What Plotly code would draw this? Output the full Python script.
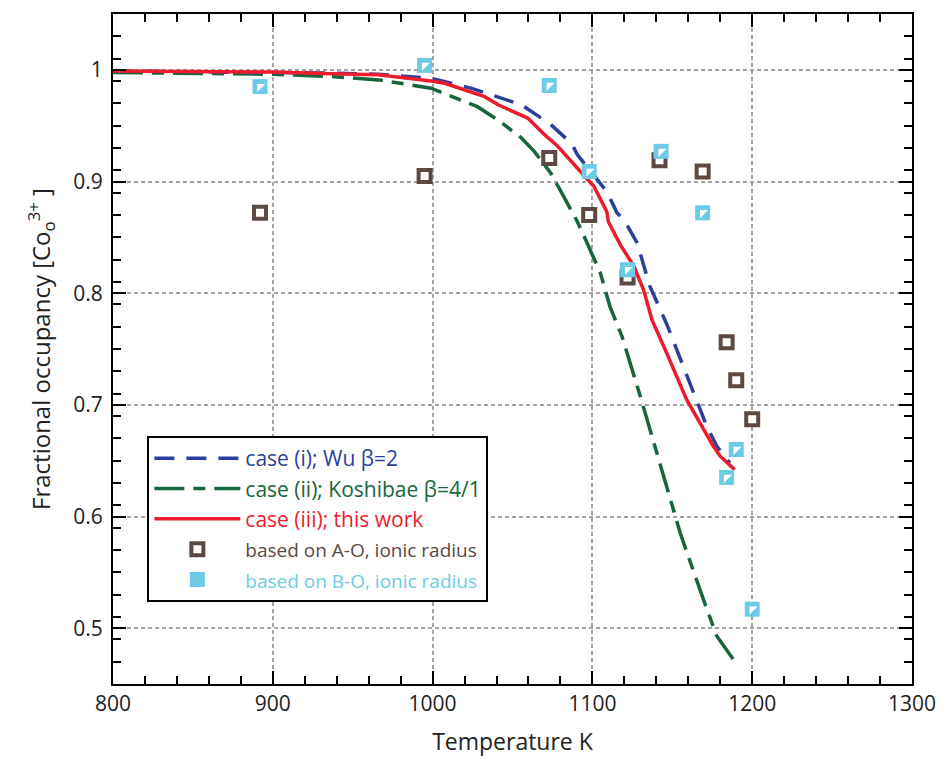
import plotly.graph_objects as go

# ---- data ----
T_i = [800, 900, 937, 966, 999, 1024, 1055.6, 1074, 1087, 1090.6, 1109, 1115.5, 1119.7, 1128, 1136, 1146.6, 1160, 1171.5, 1177.8, 1186]
v_i = [0.999, 0.998, 0.997, 0.996, 0.9925, 0.9836, 0.9687, 0.951, 0.934, 0.924, 0.891, 0.8717, 0.866, 0.845, 0.806, 0.772, 0.722, 0.681, 0.663, 0.648]

T_ii = [800, 900, 937, 966, 999, 1009.6, 1028, 1041, 1055.6, 1063.6, 1074, 1082, 1090.6, 1094.8, 1105, 1111, 1118.6, 1130, 1142.5, 1155, 1169.5, 1177.8, 1189]
v_ii = [0.9976, 0.996, 0.994, 0.991, 0.9836, 0.9776, 0.967, 0.955, 0.939, 0.927, 0.9075, 0.8866, 0.864, 0.851, 0.818, 0.788, 0.761, 0.7075, 0.645, 0.585, 0.5255, 0.493, 0.4703]

T_iii = [800, 900, 937, 966, 999, 1007.6, 1032.5, 1041, 1059.5, 1070, 1078, 1094.8, 1101, 1109, 1110, 1117.6, 1126, 1132, 1137.3, 1146.6, 1159, 1175.7, 1180, 1189]
v_iii = [0.999, 0.998, 0.9964, 0.9955, 0.990, 0.988, 0.976, 0.9687, 0.9568, 0.942, 0.932, 0.9045, 0.8955, 0.873, 0.864, 0.843, 0.824, 0.803, 0.776, 0.746, 0.7046, 0.6628, 0.654, 0.642]

T_AO = [892, 995, 1073, 1098, 1122, 1142, 1169, 1184, 1190, 1200]
v_AO = [0.872, 0.905, 0.921, 0.870, 0.814, 0.919, 0.909, 0.756, 0.722, 0.687]

T_BO = [892, 995, 1073, 1098, 1122, 1143, 1169, 1190, 1184, 1200]
v_BO = [0.985, 1.004, 0.986, 0.909, 0.821, 0.927, 0.872, 0.660, 0.635, 0.517]

x_ticks = [800, 900, 1000, 1100, 1200, 1300]
y_ticks = [0.5, 0.6, 0.7, 0.8, 0.9, 1.0]
y_ticktext = ["0.5", "0.6", "0.7", "0.8", "0.9", "1"]

BLUE = "#2d3f9c"
GREEN = "#17653a"
RED = "#ec1c2d"
BROWN = "#5c4a42"
CYAN = "#6dcbe6"
FONT = "Open Sans, Liberation Sans"

fig = go.Figure()

fig.add_trace(go.Scatter(
    x=T_ii, y=v_ii, mode="lines", legendrank=2,
    name=f'<span style="color:{GREEN}">case (ii); Koshibae β=4/1</span>',
    line=dict(color=GREEN, width=3.5, dash="30px,9px,12px,9px"),
))
fig.add_trace(go.Scatter(
    x=T_i, y=v_i, mode="lines", legendrank=1,
    name=f'<span style="color:{BLUE}">case (i); Wu β=2</span>',
    line=dict(color=BLUE, width=3.5, dash="20px,12px"),
))
fig.add_trace(go.Scatter(
    x=T_iii, y=v_iii, mode="lines", legendrank=3,
    name=f'<span style="color:{RED}">case (iii); this work</span>',
    line=dict(color=RED, width=3.5),
))
fig.add_trace(go.Scatter(
    x=T_AO, y=v_AO, mode="markers", legendrank=4,
    name=f'<span style="color:{BROWN};font-size:19px">based on A-O, ionic radius</span>',
    marker=dict(symbol="square", size=12, color="white", line=dict(color=BROWN, width=4)),
))
fig.add_trace(go.Scatter(
    x=T_BO, y=v_BO, mode="markers", legendrank=5,
    name=f'<span style="color:{CYAN};font-size:19px">based on B-O, ionic radius</span>',
    marker=dict(symbol="square", size=15, color=CYAN, line=dict(width=0)),
))
fig.add_trace(go.Scatter(
    x=T_BO, y=v_BO, mode="markers", showlegend=False, hoverinfo="skip",
    marker=dict(symbol="triangle-nw", size=9, color="white", line=dict(width=0)),
))

axis_common = dict(
    showline=True, linecolor="black", linewidth=2, mirror="allticks",
    ticks="inside", tickcolor="black", tickwidth=2, ticklen=13,
    showgrid=True, gridcolor="#a3a3a3", gridwidth=1.5, griddash="4px,3px",
    zeroline=False,
    tickfont=dict(family=FONT, size=21, color="#222"),
)

fig.update_xaxes(
    range=[800, 1300], tickvals=x_ticks,
    title=dict(text="Temperature K", font=dict(family=FONT, size=23, color="#222"), standoff=18),
    minor=dict(dtick=20, tick0=800, ticks="inside", ticklen=8, tickcolor="black", tickwidth=1.5, showgrid=False),
    **axis_common,
)
fig.update_yaxes(
    range=[0.45, 1.05], tickvals=y_ticks, ticktext=y_ticktext,
    title=dict(text="Fractional occupancy [Co<sub>o</sub><sup>3+</sup> ]", font=dict(family=FONT, size=24, color="#222"), standoff=16),
    minor=dict(dtick=0.02, tick0=0.45, ticks="inside", ticklen=8, tickcolor="black", tickwidth=1.5, showgrid=False),
    ticklabelstandoff=4,
    **axis_common,
)

fig.update_layout(
    width=948, height=763,
    margin=dict(l=113, r=32, t=13, b=78),
    plot_bgcolor="white", paper_bgcolor="white",
    font=dict(family=FONT, size=21),
    legend=dict(
        x=0.043, y=0.37, xanchor="left", yanchor="top",
        bgcolor="white", bordercolor="black", borderwidth=2,
        font=dict(family=FONT, size=21),
        tracegroupgap=0, itemwidth=86,
    ),
)

fig.write_html("out.html", config={"displayModeBar": False},
               post_script="document.body.style.margin='0';")
